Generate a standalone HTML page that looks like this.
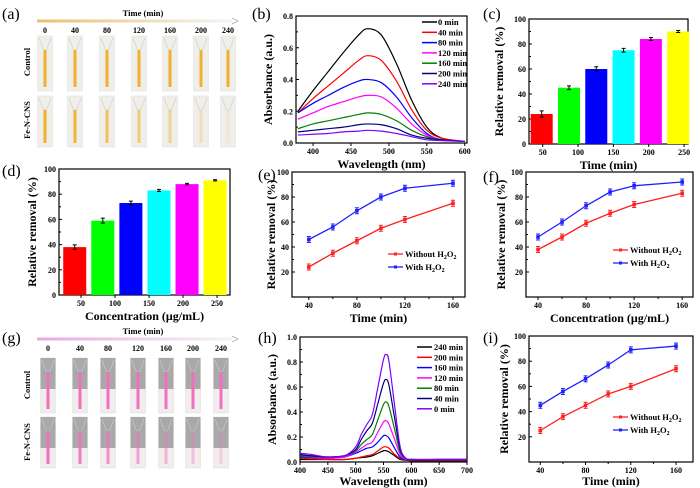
<!DOCTYPE html>
<html><head><meta charset="utf-8">
<style>
html,body{margin:0;padding:0;background:#fff;}
svg{display:block;font-family:"Liberation Serif",serif;}
.tk{font-size:8px;font-weight:bold;}
.at{font-size:12px;font-weight:bold;}
.pl{font-size:16px;}
.lg{font-size:8.5px;font-weight:bold;}
</style></head>
<body>
<svg id="fig" width="700" height="488" viewBox="0 0 700 488" xmlns="http://www.w3.org/2000/svg">
<defs>
<linearGradient id="ga" x1="0" x2="1"><stop offset="0" stop-color="#e8c070"/><stop offset="1" stop-color="#f4f4f4"/></linearGradient>
<linearGradient id="gg" x1="0" x2="1"><stop offset="0" stop-color="#e8a8e0"/><stop offset="1" stop-color="#f4f4f4"/></linearGradient>
</defs>
<g id="root"></g>
</svg>
<script>
// ---------- data ----------
const barLabels = ["50","100","150","200","250"];
const barValuesC = [24,45,60,75,84,90];
const barErrC = [2.5,1.5,1.8,1.5,1.2,0.8];
const barValuesD = [38,59,73,83,88,91];
const barErrD = [1.8,2,1.5,0.8,0.6,0.5];
const barColors = ["#ff0000","#00ff00","#0000ff","#00ffff","#ff00ff","#ffff00"];
const barPos = [1,2,3,4,5,6];
const cTickPos = [1.037,2.332,3.627,4.922,6.217];
const dTickPos = [1.224,2.435,3.646,4.857,6.068];

const lineX = [40,60,80,100,120,160];
const eRed = [24,35,45,55,62,75];
const eBlue = [46,56,69,80,87,91];
const fRed = [38,48,59,67,74,83];
const fBlue = [48,60,73,84,89,92];
const iRed = [25,36,45,54,60,74];
const iBlue = [45,56,66,77,89,92];

const bWl = [380,400,420,440,460,472,490,510,530,550,570,600];
const bNames = ["0 min","40 min","80 min","120 min","160 min","200 min","240 min"];
const bColors = ["#000000","#ff0000","#0000ff","#ff00ff","#008000","#000080","#8000ff"];
const b0 = [0.20,0.33,0.45,0.57,0.68,0.72,0.68,0.50,0.27,0.10,0.03,0.01];
const b40 = [0.19,0.28,0.36,0.44,0.52,0.55,0.52,0.39,0.21,0.08,0.03,0.01];
const b80 = [0.19,0.25,0.30,0.35,0.39,0.40,0.38,0.29,0.16,0.06,0.02,0.01];
const b120 = [0.15,0.19,0.23,0.26,0.29,0.30,0.29,0.22,0.12,0.05,0.02,0.01];
const b160 = [0.09,0.12,0.14,0.16,0.18,0.19,0.18,0.14,0.08,0.04,0.02,0.01];
const b200 = [0.07,0.08,0.09,0.10,0.115,0.12,0.115,0.09,0.05,0.03,0.02,0.01];
const b240 = [0.05,0.055,0.06,0.07,0.075,0.08,0.075,0.06,0.04,0.02,0.015,0.01];

const hWl = [400,420,450,480,500,510,520,530,540,550,555,560,570,580,590,600,650,700];
const hNames = ["240 min","200 min","160 min","120 min","80 min","40 min","0 min"];
const hColors = ["#000000","#ff0000","#0000ff","#ff00ff","#008000","#000080","#8000ff"];
const h240 = [0.02,0.02,0.02,0.02,0.03,0.035,0.04,0.05,0.07,0.09,0.09,0.08,0.05,0.02,0.015,0.01,0.01,0.01];
const h200 = [0.03,0.025,0.02,0.02,0.03,0.04,0.05,0.06,0.09,0.12,0.12,0.11,0.06,0.03,0.02,0.015,0.015,0.015];
const h160 = [0.04,0.035,0.03,0.04,0.07,0.09,0.11,0.12,0.16,0.21,0.21,0.19,0.11,0.04,0.02,0.02,0.02,0.02];
const h120 = [0.05,0.04,0.03,0.04,0.08,0.11,0.14,0.16,0.24,0.32,0.33,0.30,0.18,0.06,0.02,0.02,0.02,0.02];
const h80 = [0.05,0.045,0.04,0.05,0.09,0.14,0.18,0.22,0.34,0.46,0.48,0.44,0.26,0.08,0.03,0.02,0.02,0.02];
const h40 = [0.06,0.05,0.04,0.05,0.10,0.18,0.25,0.31,0.47,0.63,0.66,0.61,0.35,0.10,0.03,0.02,0.02,0.02];
const h0 = [0.07,0.06,0.04,0.05,0.12,0.22,0.30,0.38,0.60,0.82,0.86,0.80,0.45,0.12,0.03,0.02,0.02,0.02];

const timeLabels = ["0","40","80","120","160","200","240"];

// ---------- helpers ----------
const NS="http://www.w3.org/2000/svg";
const root=document.getElementById('root');
function mk(tag,attrs,parent){const e=document.createElementNS(NS,tag);for(const k in attrs)e.setAttribute(k,attrs[k]);(parent||root).appendChild(e);return e;}
function txt(s,x,y,cls,anchor,parent,name){const t=mk('text',{x:x,y:y,'class':cls,'text-anchor':anchor||'middle'},parent);t.textContent=s;


return t;}
function smooth(pts){let d='M'+pts[0][0]+','+pts[0][1];for(let i=0;i<pts.length-1;i++){const p0=pts[i-1]||pts[i],p1=pts[i],p2=pts[i+1],p3=pts[i+2]||p2;
const c1x=p1[0]+(p2[0]-p0[0])/6,c1y=p1[1]+(p2[1]-p0[1])/6,c2x=p2[0]-(p3[0]-p1[0])/6,c2y=p2[1]-(p3[1]-p1[1])/6;
d+=` C${c1x},${c1y} ${c2x},${c2y} ${p2[0]},${p2[1]}`;}return d;}

function axes(p){
  const g=mk('g',{});
  
  
  const sx=v=>p.x0+(v-p.xmin)/(p.xmax-p.xmin)*(p.x1-p.x0);
  const sy=v=>p.y1-(v-p.ymin)/(p.ymax-p.ymin)*(p.y1-p.y0);
  const fr=mk('rect',{x:p.x0,y:p.y0,width:p.x1-p.x0,height:p.y1-p.y0,fill:'none',stroke:'#000','stroke-width':1.2},g);
  
  
  p.yt.forEach(v=>{const y=sy(v);mk('line',{x1:p.x0,x2:p.x0+3,y1:y,y2:y,stroke:'#000'},g);
    txt(String(v),p.x0-3,y+3,'tk','end',g,'y-tick-label');
    if(p.yminor){const ym=sy(v+p.yminor);if(ym>p.y0)mk('line',{x1:p.x0,x2:p.x0+2,y1:ym,y2:ym,stroke:'#000'},g);}});
  p.xt.forEach((v,i)=>{const x=sx(v);mk('line',{x1:x,x2:x,y1:p.y1,y2:p.y1+3,stroke:'#000'},g);
    txt(p.xl?p.xl[i]:String(v),x,p.y1+11,'tk','middle',g,'x-tick-label');});
  if(p.xminor)p.xminor.forEach(v=>{const x=sx(v);mk('line',{x1:x,x2:x,y1:p.y1,y2:p.y1+2,stroke:'#000'},g);});
  txt(p.xtitle,(p.x0+p.x1)/2,p.y1+(p.xtoff||25),'at','middle',g,'x-axis-title');
  const yt=txt(p.ytitle,0,0,'at','middle',g,'y-axis-title');
  yt.setAttribute('transform',`translate(${p.ytx},${(p.y0+p.y1)/2}) rotate(-90)`);
  txt(p.label,p.lx,p.ly,'pl','start',g,'panel-label');
  return {g,sx,sy};
}

// ---------- panel b ----------
(function(){
  const A=axes({name:'panel-b-absorbance',x0:296,x1:467,y0:16,y1:143,xmin:377.5,xmax:603,ymin:0,ymax:0.8,
    xt:[400,450,500,550,600],yt:[0,0.2,0.4,0.6,0.8],yminor:0.1,
    xtitle:'Wavelength (nm)',ytitle:'Absorbance (a.u.)',ytx:272,label:'(b)',lx:252,ly:19});
  A.g.querySelectorAll('.tk').forEach(t=>{if(t.getAttribute('text-anchor')==='end'){const v=parseFloat(t.textContent);t.textContent=v.toFixed(1);}});
  const series=[b0,b40,b80,b120,b160,b200,b240];
  series.forEach((s,i)=>{const pts=bWl.map((w,j)=>[A.sx(w),A.sy(s[j])]);
    const p=mk('path',{d:smooth(pts),fill:'none',stroke:bColors[i],'stroke-width':1.2},A.g);
    
    
    const ly=22+i*10.3;
    mk('line',{x1:422,x2:437,y1:ly,y2:ly,stroke:bColors[i],'stroke-width':1.5},A.g);
    txt(bNames[i],438,ly+3,'lg','start',A.g,'legend-entry');});
})();

// ---------- bar panels ----------
function bars(cfg,vals,errs){
  const A=axes(cfg);
  vals.forEach((v,i)=>{const cx=A.sx(cfg.pos[i]);const w=cfg.bw;
    const r=mk('rect',{x:cx-w/2,y:A.sy(v),width:w,height:A.sy(0)-A.sy(v),fill:barColors[i]},A.g);
    
    
    const e1=A.sy(v+errs[i]),e2=A.sy(v-errs[i]);
    mk('line',{x1:cx,x2:cx,y1:e1,y2:e2,stroke:'#000'},A.g);
    mk('line',{x1:cx-2,x2:cx+2,y1:e1,y2:e1,stroke:'#000'},A.g);
    mk('line',{x1:cx-2,x2:cx+2,y1:e2,y2:e2,stroke:'#000'},A.g);});
}
bars({name:'panel-c-bars',x0:529,x1:688,y0:19,y1:144,xmin:0.535,xmax:6.36,ymin:0,ymax:100,
  xt:cTickPos,xl:barLabels,yt:[0,20,40,60,80,100],yminor:10,pos:barPos,bw:22,
  xtitle:'Time (min)',ytitle:'Relative removal (%)',ytx:503,label:'(c)',lx:483,ly:19},barValuesC,barErrC);
bars({name:'panel-d-bars',x0:59,x1:230,y0:169,y1:295,xmin:0.44,xmax:6.53,ymin:0,ymax:100,
  xt:dTickPos,xl:barLabels,yt:[0,20,40,60,80,100],yminor:10,pos:barPos,bw:23,
  xtitle:'Concentration (μg/mL)',ytitle:'Relative removal (%)',ytx:36,label:'(d)',lx:2,ly:176},barValuesD,barErrD);

// ---------- line panels ----------
function lines(cfg,red,blue,lgx,lgy){
  const A=axes(cfg);
  [[red,'#ff2020','without-h2o2'],[blue,'#2020ff','with-h2o2']].forEach(([s,c,n])=>{
    const pts=lineX.map((x,j)=>A.sx(x)+','+A.sy(s[j])).join(' ');
    const pl=mk('polyline',{points:pts,fill:'none',stroke:c,'stroke-width':1.3},A.g);
    
    
    lineX.forEach((x,j)=>{const cx=A.sx(x),cy=A.sy(s[j]);
      mk('line',{x1:cx,x2:cx,y1:cy-3,y2:cy+3,stroke:c,'stroke-width':1},A.g);
      mk('line',{x1:cx-2,x2:cx+2,y1:cy-3,y2:cy-3,stroke:c},A.g);
      mk('line',{x1:cx-2,x2:cx+2,y1:cy+3,y2:cy+3,stroke:c},A.g);
      mk('rect',{x:cx-1.8,y:cy-1.8,width:3.6,height:3.6,fill:c},A.g);});
  });
  [['#ff2020','Without H','2','O','2'],['#2020ff','With H','2','O','2']].forEach((L,i)=>{
    const y=lgy+i*13;
    mk('line',{x1:lgx,x2:lgx+15,y1:y,y2:y,stroke:L[0],'stroke-width':1.3},A.g);
    mk('rect',{x:lgx+6,y:y-1.5,width:3,height:3,fill:L[0]},A.g);
    const t=mk('text',{x:lgx+17,y:y+3,'class':'lg'},A.g);
    
    
    t.innerHTML=`${L[1]}<tspan dy="2" font-size="6">${L[2]}</tspan><tspan dy="-2">${L[3]}</tspan><tspan dy="2" font-size="6">${L[4]}</tspan>`;
  });
}
lines({name:'panel-e-time',x0:292,x1:465,y0:172,y1:297,xmin:26,xmax:170,ymin:0,ymax:100,
  xt:[40,80,120,160],xminor:[60,100,140],yt:[20,40,60,80,100],yminor:10,
  xtitle:'Time (min)',ytitle:'Relative removal (%)',ytx:275,label:'(e)',lx:258,ly:180},eRed,eBlue,388,254);
lines({name:'panel-f-concentration',x0:526,x1:693,y0:172,y1:297,xmin:30,xmax:169,ymin:0,ymax:100,
  xt:[40,80,120,160],yt:[20,40,60,80,100],yminor:10,xminor:[60,100,140],
  xtitle:'Concentration (μg/mL)',ytitle:'Relative removal (%)',ytx:505,label:'(f)',lx:483,ly:182},fRed,fBlue,613,250);
lines({name:'panel-i-time',x0:529,x1:693,y0:336,y1:462,xmin:30,xmax:175,ymin:0,ymax:100,
  xt:[40,80,120,160],xminor:[60,100,140],yt:[20,40,60,80,100],yminor:10,xtoff:23,
  xtitle:'Time (min)',ytitle:'Relative removal (%)',ytx:508,label:'(i)',lx:483,ly:343},iRed,iBlue,613,417);

// ---------- panel h ----------
(function(){
  const A=axes({name:'panel-h-absorbance',x0:300,x1:467,y0:337,y1:462,xmin:400,xmax:700,ymin:0,ymax:1.0,
    xt:[400,450,500,550,600,650,700],yt:[0,0.2,0.4,0.6,0.8,1.0],yminor:0.1,xtoff:23,
    xtitle:'Wavelength (nm)',ytitle:'Absorbance (a.u.)',ytx:276,label:'(h)',lx:258,ly:343});
  A.g.querySelectorAll('.tk').forEach(t=>{if(t.getAttribute('text-anchor')==='end'){t.textContent=parseFloat(t.textContent).toFixed(1);}});
  const series=[h240,h200,h160,h120,h80,h40,h0];
  series.forEach((s,i)=>{const pts=hWl.map((w,j)=>[A.sx(w),A.sy(s[j])]);
    const p=mk('path',{d:smooth(pts),fill:'none',stroke:hColors[i],'stroke-width':1.2},A.g);
    
    
    const ly=347+i*10.3;
    mk('line',{x1:417,x2:432,y1:ly,y2:ly,stroke:hColors[i],'stroke-width':1.5},A.g);
    txt(hNames[i],434,ly+3,'lg','start',A.g,'legend-entry');});
})();

// ---------- photo panels ----------
function photos(cfg){
  const g=mk('g',{});
  
  
  txt(cfg.label,2,cfg.ly,'pl','start',g,'panel-label');
  txt('Time (min)',143,cfg.ty,'lg','middle',g,'time-title');
  mk('rect',{x:37,y:cfg.ay-1.5,width:195,height:3,fill:'url(#'+cfg.grad+')'},g);
  mk('path',{d:`M232,${cfg.ay-3} L238,${cfg.ay} L232,${cfg.ay+3}`,fill:'none',stroke:'#aac','stroke-width':0.8},g);
  cfg.xs.forEach((x,i)=>{txt(timeLabels[i],x,cfg.ay+12,'tk','middle',g,'time-label');
    cfg.rows.forEach((r,ri)=>{
      const cu=mk('rect',{x:x-7.5,y:r[0],width:15,height:r[1]-r[0],fill:cfg.bg(ri,i,r),stroke:'#ddd','stroke-width':0.5},g);
      
      
      if(cfg.gray){mk('rect',{x:x-7.5,y:r[0],width:15,height:r[2]-r[0],fill:'#a9a9a9'},g);}
      mk('path',{d:`M${x-6},${r[0]+2} L${x-1.5},${r[0]+14} L${x+1.5},${r[0]+14} L${x+6},${r[0]+2}`,fill:'none',stroke:'#ccc','stroke-width':0.6},g);
      mk('rect',{x:x-1.5,y:r[0]+14,width:3,height:r[1]-r[0]-18,fill:cfg.stripe(ri,i)},g);
    });});
  const c=txt('Control',0,0,'lg','middle',g,'row-label');c.setAttribute('transform',`translate(30,${cfg.rl[0]}) rotate(-90)`);
  const f=txt('Fe-N-CNS',0,0,'lg','middle',g,'row-label');f.setAttribute('transform',`translate(30,${cfg.rl[1]}) rotate(-90)`);
}
const orangeOp=[1,0.95,0.75,0.6,0.45,0.25,0.1];
photos({name:'panel-a-photos',label:'(a)',ly:19,ty:16,ay:21,grad:'ga',xs:[45,75,107,139,170,201,228],
  rows:[[36,91],[96,147]],rl:[62,120],bg:()=>'#efeee8',
  stripe:(r,i)=>r===0?'#f0b030':`rgba(240,176,48,${orangeOp[i]})`});
const pinkOp=[1,0.9,0.75,0.6,0.45,0.35,0.25];
photos({name:'panel-g-photos',label:'(g)',ly:343,ty:334,ay:339,grad:'gg',xs:[48,80,108,138,166,193,221],gray:true,
  rows:[[358,413,389],[417,468,448]],rl:[385,442],bg:()=>'#f2ecec',
  stripe:(r,i)=>r===0?'#f070c0':`rgba(240,112,192,${pinkOp[i]})`});
</script>
</body></html>
